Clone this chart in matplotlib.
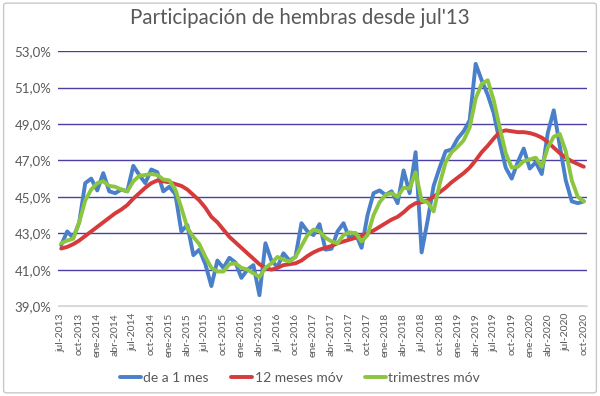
import numpy as np
import matplotlib.pyplot as plt
from matplotlib.patches import FancyBboxPatch

# monthly series jul-2013 .. oct-2020 (% of women participation)
month_names = ['ene', 'feb', 'mar', 'abr', 'may', 'jun', 'jul', 'ago', 'sep', 'oct', 'nov', 'dic']
months = [f"{month_names[(6 + k) % 12]}-{2013 + (6 + k) // 12}" for k in range(88)]

mensual = [42.35, 43.1, 42.75, 43.6, 45.75, 46.0, 45.35, 46.3, 45.3, 45.2,
           45.4, 45.3, 46.7, 46.2, 45.75, 46.5, 46.35, 45.3, 45.55, 45.15,
           43.1, 43.45, 41.8, 42.1, 41.3, 40.1, 41.5, 41.1, 41.65, 41.4,
           40.55, 41.0, 41.25, 39.6, 42.45, 41.5, 41.15, 41.9, 41.5, 41.7,
           43.55, 43.1, 42.9, 43.5, 42.1, 42.15, 43.1, 43.55, 42.7, 43.0,
           42.2, 44.0, 45.2, 45.35, 45.1, 45.3, 44.65, 46.45, 45.2, 47.45,
           41.95, 43.7, 45.6, 46.6, 47.5, 47.6, 48.2, 48.6, 49.2, 52.3,
           51.4, 50.6, 49.6, 48.0, 46.6, 46.0, 46.9, 47.65, 46.55, 46.9,
           46.25, 48.5, 49.75, 47.8, 45.9, 44.75, 44.65, 44.75]

movil_12 = [42.16, 42.25, 42.4, 42.6, 42.85, 43.1, 43.35, 43.6, 43.85, 44.1,
            44.3, 44.55, 44.9, 45.2, 45.5, 45.75, 45.9, 45.85, 45.8, 45.7,
            45.6, 45.4, 45.1, 44.8, 44.4, 43.9, 43.6, 43.2, 42.8, 42.5,
            42.2, 41.9, 41.6, 41.3, 41.1, 41.0, 41.1, 41.25, 41.3, 41.35,
            41.5, 41.75, 41.95, 42.1, 42.2, 42.3, 42.45, 42.55, 42.65, 42.75,
            42.85, 43.0, 43.15, 43.35, 43.55, 43.75, 43.9, 44.15, 44.45, 44.65,
            44.7, 44.8, 45.0, 45.25, 45.5, 45.8, 46.05, 46.3, 46.6, 47.0,
            47.45, 47.8, 48.2, 48.55, 48.65, 48.6, 48.55, 48.55, 48.5, 48.4,
            48.25, 48.0, 47.7, 47.4, 47.15, 46.95, 46.8, 46.65]

trimestral = [42.45, 42.6, 42.7, 43.6, 44.8, 45.4, 45.75, 45.85, 45.6, 45.55,
              45.4, 45.3, 45.85, 46.15, 46.2, 46.25, 46.2, 45.95, 45.9, 45.4,
              44.4, 43.3, 42.8, 42.4, 41.7, 41.1, 40.9, 40.9, 41.3, 41.35,
              41.1, 41.0, 40.8, 40.6, 41.1, 41.35, 41.7, 41.55, 41.45, 41.7,
              42.3, 42.9, 43.2, 43.1, 42.75, 42.55, 42.45, 42.9, 43.05, 43.0,
              42.55, 42.9, 44.0, 44.7, 45.1, 45.2, 45.0, 45.5, 45.45, 46.35,
              44.8, 44.7, 44.2, 45.7, 46.9, 47.45, 47.75, 48.1, 48.8, 50.4,
              51.2, 51.4, 50.3, 48.8, 47.4, 46.6, 46.65, 46.95, 47.05, 47.15,
              46.65, 47.7, 48.3, 48.45, 47.5, 45.9, 45.0, 44.75]

series_names = ['de a 1 mes', '12 meses móv', 'trimestres móv']
colors = ['#4A7FCA', '#D63A3A', '#8CC63F']

plt.rcParams['font.family'] = ['Lato', 'DejaVu Sans']
txt = '#595959'

fig = plt.figure(figsize=(6, 3.96), dpi=100)
ax = fig.add_axes([0.097, 0.227, 0.881, 0.644])

# chart border
fig.patches.append(FancyBboxPatch((0.006, 0.008), 0.988, 0.984, boxstyle='round,pad=0,rounding_size=0.005',
                                  transform=fig.transFigure, fill=False, ec='#C8C8C8', lw=1.0))

x = np.arange(len(months))
for vals, name, c in zip([mensual, movil_12, trimestral], series_names, colors):
    ax.plot(x, vals, color=c, lw=2.8, label=name, solid_joinstyle='round', solid_capstyle='round')

ax.set_ylim(39, 53)
ax.set_yticks(np.arange(39, 54, 2))
ax.set_yticklabels([f"{v:.1f}%".replace('.', ',') for v in np.arange(39, 54, 2)], fontsize=9.5, color=txt)
ax.set_xlim(-0.5, len(months) - 0.5)
ax.set_xticks(x[::3])
ax.set_xticklabels(months[::3], rotation=90, fontsize=7.5, color=txt)
ax.tick_params(length=0, pad=5)

ax.grid(axis='y', color='#4B3FA5', lw=1.0)
ax.set_axisbelow(True)
for s in ['top', 'right', 'left']:
    ax.spines[s].set_visible(False)
ax.spines['bottom'].set_color('#D9D9D9')

fig.text(0.5, 1 - 18 / 396, "Participación de hembras desde jul'13", fontsize=14.8, color=txt,
         ha='center', va='center')

fig.legend(loc='center', bbox_to_anchor=(0.5, 0.045), ncol=3, frameon=False, fontsize=10,
           handlelength=1.5, handletextpad=0.2, columnspacing=1.6, labelcolor=txt)

fig.savefig('out.png', dpi=100)
